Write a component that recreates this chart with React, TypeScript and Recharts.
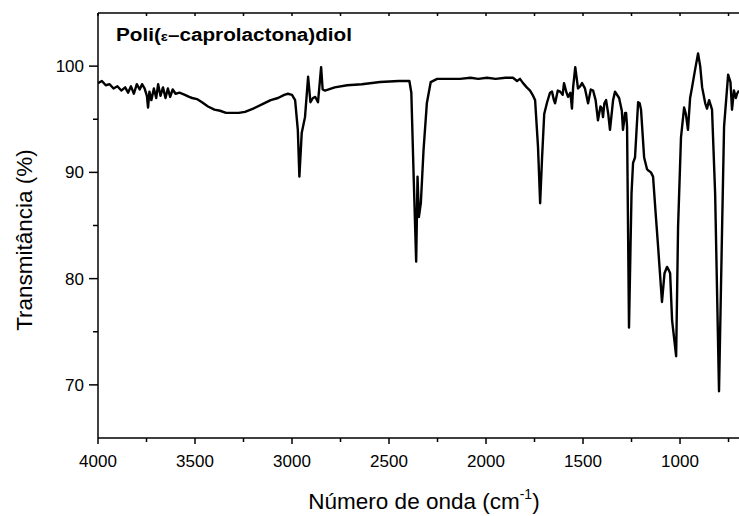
import { LineChart, Line, XAxis, YAxis } from "recharts";

// FTIR spectrum
const wavenumbers = [
  4000, 3980, 3960, 3940, 3920, 3900, 3880, 3860, 3845, 3830, 3815, 3800, 3785,
  3773, 3760, 3748, 3742, 3735, 3725, 3712, 3700, 3690, 3678, 3665, 3652, 3640,
  3628, 3615, 3600, 3580, 3552, 3530, 3515, 3490, 3464, 3433, 3400, 3371, 3340,
  3309, 3275, 3242, 3200, 3155, 3110, 3072, 3040, 3021, 3000, 2984, 2970, 2962,
  2950, 2933, 2917, 2905, 2892, 2880, 2866, 2850, 2842, 2830, 2780, 2716, 2640,
  2546, 2450, 2395, 2385, 2372, 2360, 2353, 2346, 2336, 2322, 2305, 2285, 2252,
  2200, 2134, 2080, 2040, 1995, 1950, 1900, 1861, 1840, 1825, 1809, 1790, 1773,
  1760, 1747, 1732, 1721, 1711, 1700, 1685, 1670, 1660, 1650, 1644, 1630, 1618,
  1605, 1598, 1585, 1577, 1565, 1557, 1551, 1540, 1530, 1526, 1515, 1505, 1490,
  1474, 1460, 1448, 1435, 1423, 1410, 1402, 1397, 1390, 1381, 1370, 1361, 1345,
  1335, 1314, 1300, 1294, 1283, 1278, 1273, 1263, 1250, 1242, 1232, 1216, 1208,
  1201, 1185, 1170, 1165, 1150, 1139, 1125, 1113, 1093, 1080, 1067, 1058, 1051,
  1041, 1020, 1010, 995, 979, 970, 959, 948, 938, 923, 907, 896, 886, 870, 861,
  850, 835, 819, 799, 783, 773, 752, 740, 732, 722, 712, 706, 696,
];

const transmittance = [
  98.4, 98.6, 98.2, 98.3, 97.9, 98.1, 97.7, 98.0, 97.5, 98.1, 97.4, 98.3, 97.8,
  98.3, 97.9, 97.2, 96.1, 97.6, 96.8, 97.9, 97.0, 98.3, 97.2, 98.0, 97.0, 97.9,
  97.1, 97.8, 97.4, 97.5, 97.3, 97.1, 97.0, 96.9, 96.6, 96.2, 95.9, 95.8, 95.6,
  95.6, 95.6, 95.7, 96.0, 96.4, 96.8, 97.0, 97.3, 97.4, 97.3, 96.8, 94.0, 89.6,
  93.7, 95.2, 99.0, 96.6, 97.0, 97.1, 96.6, 99.9, 97.8, 97.7, 98.0, 98.2, 98.3,
  98.5, 98.6, 98.6, 97.5, 89.0, 81.6, 89.6, 85.8, 87.1, 92.1, 96.5, 98.5, 98.8,
  98.8, 98.8, 98.9, 98.8, 98.9, 98.8, 98.9, 98.9, 98.6, 98.8, 98.4, 98.0, 97.7,
  97.3, 96.8, 92.4, 87.1, 91.4, 95.5, 96.6, 97.5, 97.6, 96.8, 96.5, 97.7, 97.6,
  97.3, 98.4, 97.5, 97.1, 97.5, 96.0, 98.0, 99.9, 98.5, 97.9, 98.1, 98.4, 97.9,
  96.5, 97.8, 97.7, 96.8, 94.9, 96.2, 96.0, 95.2, 96.5, 96.8, 95.5, 94.0, 96.8,
  97.6, 97.0, 95.8, 94.0, 95.6, 95.6, 94.3, 75.4, 88.0, 90.9, 91.4, 96.6, 96.5,
  95.9, 91.4, 90.3, 90.2, 90.0, 89.6, 86.0, 83.0, 77.8, 80.5, 81.1, 80.8, 80.5,
  76.1, 72.7, 84.9, 93.3, 96.1, 95.5, 94.0, 97.0, 98.0, 99.6, 101.2, 100.0, 98.0,
  96.5, 96.0, 96.8, 95.9, 88.0, 69.4, 84.9, 94.3, 99.2, 98.5, 95.9, 97.7, 97.0,
  97.4, 97.7,
];

const xTicks = [4000, 3750, 3500, 3250, 3000, 2750, 2500, 2250, 2000, 1750, 1500, 1250, 1000, 750];
const yTicks = [70, 75, 80, 85, 90, 95, 100];

const data = wavenumbers.map((wn, i) => ({ wn, t: transmittance[i] }));

const font = "'Liberation Sans', Arial, Helvetica, sans-serif";

const BottomTick = (props: any) => {
  const { x, y, payload } = props;
  const major = payload.value % 500 === 0;
  return (
    <g>
      <line x1={x} x2={x} y1={y} y2={y + (major ? 6 : 4)} stroke="#000" strokeWidth={1.5} />
      {major && (
        <text x={x} y={y + 29} textAnchor="middle" fontSize={17} fontFamily={font} fill="#000">
          {payload.value}
        </text>
      )}
    </g>
  );
};

const TopTick = (props: any) => {
  const { x, y } = props;
  return <line x1={x} x2={x} y1={y} y2={y + 3} stroke="#000" strokeWidth={1.5} />;
};

const LeftTick = (props: any) => {
  const { x, y, payload } = props;
  const major = payload.value % 10 === 0;
  return (
    <g>
      <line x1={x} x2={x - (major ? 9 : 5)} y1={y} y2={y} stroke="#000" strokeWidth={1.5} />
      {major && (
        <text x={x - 14} y={y + 6} textAnchor="end" fontSize={17} fontFamily={font} fill="#000">
          {payload.value}
        </text>
      )}
    </g>
  );
};

export default function App() {
  return (
    <div style={{ position: "absolute", left: 0, top: 0, width: 739, height: 516, background: "#fff" }}>
      <LineChart width={739} height={516} data={data} margin={{ top: 0, right: 0, left: 0, bottom: 0 }}>
        <XAxis
          xAxisId="top"
          orientation="top"
          type="number"
          dataKey="wn"
          domain={[696, 4000]}
          reversed
          allowDataOverflow
          ticks={xTicks}
          interval={0}
          height={13}
          tickLine={false}
          tickSize={0}
          tickMargin={0}
          tick={TopTick}
          axisLine={{ stroke: "#000", strokeWidth: 1.5 }}
        />
        <XAxis
          type="number"
          dataKey="wn"
          domain={[696, 4000]}
          reversed
          allowDataOverflow
          ticks={xTicks}
          interval={0}
          height={78}
          tickLine={false}
          tickSize={0}
          tickMargin={0}
          tick={BottomTick}
          axisLine={{ stroke: "#000", strokeWidth: 1.5 }}
          label={{
            content: () => (
              <text x={424} y={509} textAnchor="middle" fontSize={22.5} fontFamily={font} fill="#000">
                Número de onda (cm
                <tspan fontSize={14} dy={-10}>-1</tspan>
                <tspan dy={10}>)</tspan>
              </text>
            ),
          }}
        />
        <YAxis
          type="number"
          domain={[65, 105]}
          allowDataOverflow
          ticks={yTicks}
          interval={0}
          width={98}
          tickLine={false}
          tickSize={0}
          tickMargin={0}
          tick={LeftTick}
          axisLine={{ stroke: "#000", strokeWidth: 1.5 }}
          label={{
            content: () => (
              <text
                x={32}
                y={240}
                transform="rotate(-90, 32, 240)"
                textAnchor="middle"
                fontSize={22.5}
                fontFamily={font}
                fill="#000"
              >
                Transmitância (%)
              </text>
            ),
          }}
        />
        <Line
          type="linear"
          dataKey="t"
          stroke="#000"
          strokeWidth={2.4}
          strokeLinejoin="round"
          dot={false}
          isAnimationActive={false}
        />
      </LineChart>
      <svg
        width={739}
        height={516}
        style={{ position: "absolute", left: 0, top: 0, pointerEvents: "none" }}
      >
        <text x={116} y={41} fontSize={18} fontWeight="bold" fontFamily={font} fill="#000" textLength={236} lengthAdjust="spacingAndGlyphs">
          Poli(<tspan fontSize={13}>ε</tspan>–caprolactona)diol
        </text>
      </svg>
    </div>
  );
}
